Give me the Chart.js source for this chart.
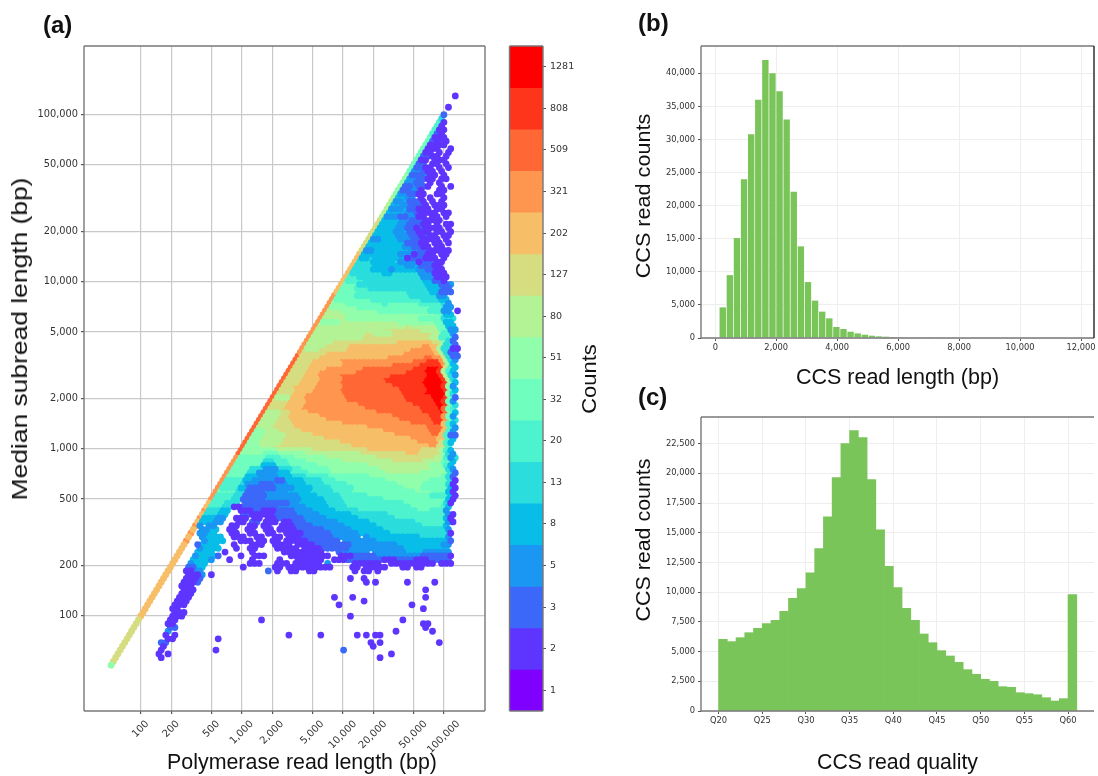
<!DOCTYPE html>
<html><head><meta charset="utf-8">
<script src="https://cdn.jsdelivr.net/npm/chart.js@4"></script>
<style>
html,body{margin:0;padding:0;background:#fff;width:1098px;height:776px;overflow:hidden}
canvas{position:absolute;display:block}
.t{position:absolute;font-family:'Liberation Sans',Arial,sans-serif;color:#111;white-space:nowrap;line-height:1}
.p{font-weight:bold;font-size:24px}
</style></head><body>
<canvas id="ca" width="500" height="776" style="left:0;top:0"></canvas>
<canvas id="cb" width="100" height="776" style="left:500px;top:0"></canvas>
<canvas id="cc" width="473" height="400" style="left:625px;top:0"></canvas>
<canvas id="cd" width="473" height="376" style="left:625px;top:400px"></canvas>
<div class="t p" style="left:43px;top:13px">(a)</div>
<div class="t p" style="left:638px;top:11px">(b)</div>
<div class="t p" style="left:638px;top:385px">(c)</div>
<div class="t" style="left:302px;top:763px;font-size:21.4px;transform:translate(-50%,-50%)">Polymerase read length (bp)</div>
<div class="t" style="left:20px;top:339px;font-size:22px;transform:translate(-50%,-50%) rotate(-90deg) scaleX(1.2)">Median subread length (bp)</div>
<div class="t" style="left:589px;top:379px;font-size:20px;transform:translate(-50%,-50%) rotate(-90deg) scaleX(1.1)">Counts</div>
<div class="t" style="left:643px;top:196px;font-size:20px;transform:translate(-50%,-50%) rotate(-90deg) scaleX(1.08)">CCS read counts</div>
<div class="t" style="left:643px;top:540px;font-size:20px;transform:translate(-50%,-50%) rotate(-90deg) scaleX(1.07)">CCS read counts</div>
<script>
// ---------- panel (a): hexbin, axes ----------
const polymeraseTicks = [100,200,500,1000,2000,5000,10000,20000,50000,100000];
const subreadTicks = [100,200,500,1000,2000,5000,10000,20000,50000,100000];
const countLabels = [1,2,3,5,8,13,20,32,51,80,127,202,321,509,808,1281];
const levelColors = ['#8000ff','#5e35fe','#3c68f9','#1a96f3','#08bee9','#2bdddd','#4df3ce','#6ffebe','#91feab','#b3f396','#d5dd80','#f7be68','#ff964f','#ff6835','#ff351b','#ff0000'];
const hexLogOrigin = 1.704, hexLogStep = 0.02257;
// one entry per hex row, bottom to top; pairs of (colour level, last column), level -1 = empty
const hexRuns = [
[8,0],[10,1],[10,2,-1,21,1,22],[10,3,-1,20,1,21,-1,24,1,25],[10,4,-1,21,1,22],[10,5,-1,22,1,23],
[10,6,-1,21,2,24],[10,7,-1,24,1,27],[10,8,-1,23,1,25,-1,26,1,28],[10,9,-1,24,3,26],[10,10,-1,24,2,28],
[10,11,-1,24,1,28],[10,12,-1,25,1,29],[11,13,-1,25,1,31],[11,14,-1,26,1,32],[11,15,-1,26,1,30],
[11,16,-1,26,1,32],[11,17,-1,28,1,34],[11,18,-1,28,1,34],[11,19,-1,29,1,35],[11,20,-1,30,1,36],
[11,21,-1,30,1,36],[11,22,-1,30,1,36,2,38],[11,23,-1,31,1,37,2,39],[11,24,-1,32,1,38,3,40],
[11,25,-1,31,1,35,3,39,-1,71,1,74,-1,77,1,82,-1,85,1,90,-1,109,1,112,-1,115,1,118],
[11,26,-1,32,2,36,4,40,-1,71,1,74,-1,77,1,84,-1,85,1,92,-1,93,1,96,-1,105,1,108,-1,111,1,120,-1,127,1,130,-1,133,1,136],
[11,27,-1,33,3,35,4,41,-1,60,1,65,-1,71,1,77,-1,80,1,91,-1,94,3,96,-1,105,1,117,-1,121,1,141,-1,143,1,149],
[11,28,-1,34,4,42,3,44,-1,50,1,52,-1,60,1,62,-1,72,1,74,-1,80,1,92,-1,96,1,102,2,118,1,124,2,132,1,138,2,148],
[11,29,-1,35,3,37,4,45,2,47,-1,55,1,57,-1,61,1,67,-1,77,1,95,-1,99,1,105,2,115,3,135,2,147,1,149],
[11,30,-1,36,4,44,-1,48,1,50,-1,60,1,62,-1,74,1,92,-1,98,2,100,3,112,-1,114,3,128,4,136,3,148],
[11,31,-1,37,3,39,4,47,-1,53,1,55,-1,59,1,63,-1,71,1,81,-1,83,1,91,2,103,3,127,4,147],
[11,32,-1,36,2,38,4,46,-1,52,1,54,-1,60,1,66,-1,70,1,78,-1,80,1,88,2,104,3,124,4,144,3,148],
[12,33,-1,39,3,41,4,49,-1,55,1,61,-1,63,1,67,-1,69,1,73,-1,75,1,85,2,99,-1,101,3,115,4,147,2,149],
[11,34,-1,38,3,40,4,48,-1,52,1,58,-1,62,1,66,-1,70,1,74,-1,76,1,82,2,96,3,108,-1,110,3,112,4,134,5,146,3,148],
[12,35,-1,37,3,41,4,45,-1,51,1,55,-1,59,1,63,-1,67,1,71,-1,75,1,83,2,95,3,107,4,121,5,147,1,149],
[11,36,-1,38,3,42,4,46,-1,50,1,54,-1,58,1,62,-1,66,1,70,-1,72,1,80,2,92,3,104,4,118,5,146,3,148],
[12,37,3,39,-1,41,3,45,-1,51,1,55,-1,59,1,63,-1,65,1,69,-1,73,1,79,2,87,3,101,4,115,5,135,6,145,4,147],
[11,38,4,44,3,48,-1,54,1,58,-1,60,2,64,-1,66,1,72,-1,74,1,78,2,84,3,98,4,112,5,132,6,146,3,148,1,150],
[12,39,4,45,3,49,-1,53,1,59,-1,61,1,65,-1,67,1,71,2,83,3,93,4,107,5,123,6,145,4,147,1,150],
[11,40,5,46,4,50,-1,56,2,60,1,64,-1,65,1,70,2,80,3,90,4,104,5,120,6,146,3,148,1,150],
[12,41,5,47,4,51,-1,55,1,61,2,65,1,71,2,79,3,87,4,97,5,107,6,134,7,140,6,146,3,148],
[11,42,6,48,5,52,1,56,2,72,3,84,4,94,5,103,6,130,7,144,6,146,4,149],
[11,43,6,49,5,55,-1,57,2,77,3,81,4,93,5,101,6,127,7,145,5,147,1,149],
[12,44,6,52,5,56,2,66,3,76,3,82,4,92,5,100,6,118,7,146,4,148,1,151],
[12,45,6,53,5,57,2,67,3,75,3,81,4,89,5,99,6,111,7,139,6,147,4,149,1,151],
[12,46,7,54,5,58,2,66,3,76,4,86,5,96,6,104,7,132,8,140,7,146,4,148,1,151],
[12,47,6,55,4,59,2,71,3,79,4,87,5,95,6,105,7,127,8,135,7,147,4,149,1,151],
[12,48,6,56,5,59,3,65,2,71,3,77,4,85,5,93,6,103,7,125,8,136,7,147,5,149,1,151],
[12,49,6,57,4,61,3,71,2,75,4,83,5,91,6,97,7,120,8,140,7,147,5,149,1,151],
[12,50,7,58,4,64,3,72,4,78,5,84,6,94,7,112,8,145,7,147,5,149,2,151],
[12,51,7,59,5,63,3,71,4,77,6,85,7,96,8,120,9,135,8,147,5,149,2,151],
[12,52,7,60,5,66,3,72,5,78,6,82,7,94,8,116,9,141,8,147,5,149,3,151],
[12,53,7,65,4,71,6,78,7,90,8,112,9,140,8,146,6,148,4,150],
[12,54,7,66,5,70,6,76,7,84,8,100,9,122,10,136,9,144,7,148,4,150],
[12,55,7,67,6,73,7,79,8,93,9,115,10,141,9,145,6,147,3,149,5,151],
[13,56,8,66,7,72,8,84,9,108,10,128,11,134,10,144,8,146,5,148,3,150],
[13,57,8,71,9,87,10,112,11,136,10,144,9,146,6,148,4,150],
[13,58,8,64,9,70,10,104,11,139,12,143,10,146,6,148],
[13,59,8,63,9,73,10,100,11,134,12,144,10,146,6,148,4,150],
[13,60,8,64,9,74,10,92,11,130,12,143,11,146,6,148,4,150],
[13,61,8,65,9,75,10,88,11,124,12,140,13,144,11,146,6,148,2,151],
[13,62,8,66,9,72,10,82,11,118,12,138,13,144,11,146,6,148,3,151],
[13,63,9,69,10,79,11,112,12,137,13,145,11,147,6,149,3,151],
[13,64,9,70,10,78,11,100,12,130,13,141,14,145,11,147,6,149,4,151],
[13,65,9,71,10,77,11,94,12,126,13,140,14,145,12,147,7,149,5,151],
[13,66,9,72,10,76,11,90,12,122,13,138,14,145,12,147,7,149,3,151],
[13,67,9,73,10,77,11,86,12,116,13,136,14,143,15,145,13,147,7,149,4,151],
[13,68,10,74,11,83,12,110,13,134,14,142,15,145,13,147,7,149,6,151],
[13,69,10,75,11,83,12,107,13,131,14,141,15,145,14,147,7,149,5,151],
[13,70,10,76,11,84,12,103,13,129,14,140,15,145,14,147,7,149,3,151],
[13,71,9,77,11,84,12,101,13,128,14,139,15,145,14,147,7,149,2,151],
[13,72,10,78,11,85,12,101,13,127,14,137,15,146,8,148,5,150,1,151],
[13,73,10,79,11,87,12,99,13,125,14,137,15,145,14,147,7,149,4,151],
[13,74,10,79,11,89,12,100,13,122,14,137,15,145,14,147,8,149,3,151],
[13,75,10,81,11,89,12,99,13,120,14,136,15,145,14,147,8,149,4,151],
[13,76,10,82,11,91,12,100,13,118,14,136,15,145,14,147,9,149,5,151],
[13,77,10,83,11,89,12,100,13,122,14,137,15,144,14,146,9,148,5,150,3,152],
[13,78,10,84,11,90,12,106,13,128,14,137,15,143,14,145,9,147,6,149,4,151],
[13,79,10,85,11,93,12,110,13,131,14,137,15,143,14,145,10,147,6,149,4,151],
[13,80,10,86,11,101,12,122,13,135,14,145,12,147,8,149,4,151],
[13,81,10,87,11,100,12,132,13,137,14,143,12,145,9,147,5,149,3,151],
[13,82,10,90,11,120,12,137,13,141,12,144,10,146,5,148,2,152],
[12,83,10,93,11,127,12,141,11,144,9,146,5,148,2,151],
[12,84,9,90,10,102,11,131,12,141,11,143,9,145,5,149,1,152],
[12,85,9,93,10,103,11,135,12,139,11,143,9,146,5,149,2,151],
[12,86,9,96,10,125,11,141,10,144,8,146,5,149,2,151],
[12,87,9,109,10,139,9,143,6,149,2,151],
[12,88,9,110,10,114,9,122,10,140,9,144,6,148,3,150],
[12,89,9,119,10,135,9,143,7,147,3,151],
[12,90,9,112,10,114,9,128,10,130,9,142,7,146,4,150],
[12,91,8,99,9,125,8,141,7,145,4,149],
[12,92,9,102,8,134,7,144,5,150],
[12,93,9,103,8,125,9,127,8,141,7,145,4,149],
[12,94,9,100,8,116,7,138,6,144,3,148,-1,151,1,152],
[12,95,8,107,7,139,6,145,3,149],
[12,96,8,102,7,118,6,120,7,134,6,144,5,146,3,148],
[12,97,7,113,6,135,5,143,4,147],
[12,98,7,106,6,130,5,142,3,146],
[11,99,7,107,6,129,5,139,4,143,2,149],
[11,100,7,106,6,112,5,138,4,144,2,148],
[11,101,7,107,5,137,4,143,2,147,3,149],
[11,102,6,110,5,136,4,140,2,144,1,146],
[11,103,6,107,5,135,3,141,1,147],
[11,104,5,118,4,122,5,134,3,140,1,146],
[11,105,5,114,4,122,3,124,4,134,3,138,2,142,1,146],
[11,106,5,114,4,128,3,132,4,134,2,140,1,144],
[11,107,5,113,4,123,5,125,3,133,1,135,2,141,1,145],
[11,108,4,112,5,114,4,128,1,130,2,136,1,142,-1,144,1,146],
[11,109,4,125,3,131,1,133,2,137,1,141,-1,143,1,147],
[10,110,3,114,4,130,3,134,2,138,1,146,-1,147,1,148],
[10,111,4,127,3,131,2,135,1,139,-1,141,1,145],
[10,112,4,128,2,134,1,138,-1,140,1,144,-1,146,1,148],
[10,113,3,117,4,125,3,131,2,135,1,143,-1,145,1,147],
[10,114,4,124,3,130,2,134,1,136,2,138,1,142,-1,144,1,148],
[10,115,4,123,3,127,4,129,2,133,1,139,-1,141,1,145,-1,147,1,149],
[10,116,4,124,3,128,2,132,1,134,2,136,1,144,-1,146,1,148],
[10,117,4,125,3,129,2,135,1,139,-1,141,1,143,-1,145,1,149],
[10,118,4,126,3,130,2,136,1,144],
[9,119,3,125,2,129,3,133,1,137,-1,139,1,143,-1,145,1,147],
[9,120,4,128,3,132,2,134,1,142,-1,144,1,148],
[9,121,3,127,4,129,2,133,1,139,-1,141,1,145],
[9,122,4,126,3,130,2,136,1,138,-1,140,1,146],
[9,123,3,127,4,129,2,135,1,137,-1,139,1,141,-1,143,1,145],
[9,124,4,128,3,132,-1,134,1,136,-1,138,1,140,-1,144,1,146],
[8,125,3,129,2,133,1,137,-1,141,1,145],
[8,126,2,130,3,134,1,136,-1,142,1,146],
[8,127,2,131,3,133,2,137,1,139,-1,143,1,145,-1,147,1,149],
[8,128,3,132,2,136,-1,138,1,140,-1,142,1,144],
[8,129,3,133,2,137,1,141,-1,143,1,147],
[8,130,2,136,3,138,1,142,-1,144,1,146],
[7,131,3,135,2,137,1,141,-1,143,1,145],
[7,132,2,136,1,140,-1,142,1,144,-1,146,1,148],
[7,133,2,137,-1,139,1,143,-1,145,1,147],
[7,134,1,138,-1,140,1,144,-1,145,1,146],
[7,135,2,139,1,143,-1,145,1,147],
[7,136,1,140,-1,142,1,144,-1,146,1,148],
[7,137,1,143,-1,147,1,149],
[7,138,1,146],[7,139,2,141,1,147],[7,140,1,146],[6,141,2,143,1,145],[6,142,1,146],
[6,143,1,145],[6,144,1,146],[5,145],[2,146],[],[1,148],[],[],[1,151]
];
// isolated cells: column, row, colour level
const strayColumns = [98,106,138,111,100,132,137,105,66,128,137,139,138,125,141,78,92,108,112,116,118,47,114,118,144,115,46,102,123,118,105,111,112,116,130,142,138,107,113,58,69,44];
const strayRows =    [18,18,18,17,16,16,15,13,12,12,11,11,10,9,9,8,8,8,8,8,8,7,6,6,6,5,4,4,3,2,23,23,22,22,22,22,20,25,25,26,25,24];
const strayLevels =  [1,1,1,1,1,1,1,1,1,1,1,1,1,1,1,1,1,1,1,1,1,1,1,1,1,1,1,2,1,1,1,1,1,1,1,1,1,1,1,1,2,1];
// ---------- panel (b) ----------
const readLengthBins = [245,478,711,944,1177,1410,1643,1876,2109,2342,2575,2808,3041,3274,3507,3740,3973,4206,4439,4672,4905,5138,5371,5604,5837,6070,6303,6536,6769,7002];
const readLengthCounts = [4630,9500,15100,24000,30800,36000,42000,40000,37300,33000,22100,13850,8450,5650,3980,2970,1660,1360,950,700,500,350,250,200,150,120,90,70,50,40];
const lengthXTicks = [0,2000,4000,6000,8000,10000,12000];
const lengthYTicks = [0,5000,10000,15000,20000,25000,30000,35000,40000];
// ---------- panel (c) ----------
const qualityBins = [20,21,22,23,24,25,26,27,28,29,30,31,32,33,34,35,36,37,38,39,40,41,42,43,44,45,46,47,48,49,50,51,52,53,54,55,56,57,58,59,60];
const qualityCounts = [6030,5840,6170,6590,6960,7350,7630,8390,9480,10300,11620,13660,16330,19640,22500,23600,23000,19470,15240,12180,10380,8640,7630,6480,5750,5080,4630,4100,3480,3090,2670,2500,2050,1990,1540,1460,1370,1120,840,1040,9790];
const qualityXTicks = [20,25,30,35,40,45,50,55,60];
const qualityYTicks = [0,2500,5000,7500,10000,12500,15000,17500,20000,22500];

const tickFont = s => ({family:"'DejaVu Sans'",size:s});
const titleFont = s => ({family:"'Liberation Sans'",size:s});
const tickText = '#333333';
const fmt = v => Number(v).toLocaleString('en-US');
const fixW = w => s => { s.width = w; };
const fixH = h => s => { s.height = h; };
const setTicks = list => s => { s.ticks = list.map(v => ({value:v})); };
function frame(sides, color, rightColor){
  return {id:'frame',afterDraw(c){
    const a=c.chartArea,x=c.ctx;x.save();x.lineWidth=1.4;x.strokeStyle=color;
    const line=(x0,y0,x1,y1,col)=>{x.strokeStyle=col||color;x.beginPath();x.moveTo(x0,y0);x.lineTo(x1,y1);x.stroke();};
    if(sides.includes('t'))line(a.left,a.top,a.right,a.top);
    if(sides.includes('l'))line(a.left,a.top,a.left,a.bottom);
    if(sides.includes('b'))line(a.left,a.bottom,a.right,a.bottom);
    if(sides.includes('r'))line(a.right,a.top,a.right,a.bottom,rightColor);
    x.restore();}};
}
// centre the 45-degree x tick labels on their ticks, as in the reference
const centreRotatedLabels = {id:'centreRotatedLabels',beforeDraw(c){
  const s=c.scales.x,x=c.ctx;
  s.getLabelItems().forEach(it=>{
    x.save();x.font=it.font.string;const w=x.measureText(it.label).width;x.restore();
    const o=it.options;
    o.textAlign='center';o.textBaseline='middle';it.textOffset=0;
    o.translation=[o.translation[0]+4,c.chartArea.bottom+8+(w+it.font.size)/2*0.707];
  });
}};
Chart.defaults.animation=false;
Chart.defaults.responsive=false;
Chart.defaults.plugins.legend.display=false;
Chart.defaults.plugins.tooltip.enabled=false;

// build hex cells
const hexCells = levelColors.map(()=>[]);
const cellPoint=(c,r)=>({x:Math.pow(10,hexLogOrigin+c*hexLogStep),y:Math.pow(10,hexLogOrigin+r*hexLogStep)});
hexRuns.forEach((runs,r)=>{
  let c=r;
  for(let i=0;i<runs.length;i+=2){
    const lvl=runs[i],last=runs[i+1];
    while(c<=last){ if(lvl>=0)hexCells[lvl].push(cellPoint(c,r)); c+=2; }
  }
});
strayColumns.forEach((c,i)=>hexCells[strayLevels[i]].push(cellPoint(c,strayRows[i])));

new Chart(document.getElementById('ca'),{type:'scatter',
  data:{datasets:hexCells.map((pts,i)=>({label:String(countLabels[i]),data:pts,backgroundColor:levelColors[i],pointRadius:3.4,pointBorderWidth:0,pointHoverRadius:3.4}))},
  options:{layout:{padding:{top:46,right:15}},
    scales:{
      x:{type:'logarithmic',min:27.3,max:254800,afterBuildTicks:setTicks(polymeraseTicks),afterFit:fixH(65),
        grid:{color:'#c9c9c9',lineWidth:1.2,tickLength:3,tickColor:'#555'},border:{display:false},
        ticks:{autoSkip:false,minRotation:45,maxRotation:45,font:tickFont(10),color:tickText,padding:3,callback:fmt}},
      y:{type:'logarithmic',min:26.9,max:257600,afterBuildTicks:setTicks(subreadTicks),afterFit:fixW(84),
        grid:{color:'#c9c9c9',lineWidth:1.2,tickLength:3,tickColor:'#555'},border:{display:false},
        ticks:{autoSkip:false,font:tickFont(9.8),color:tickText,padding:3,callback:fmt}}
    }},plugins:[frame('tlbr','#777'),centreRotatedLabels]});

new Chart(document.getElementById('cb'),{type:'bar',
  data:{labels:countLabels.map(String),datasets:[{data:countLabels.map(()=>1),backgroundColor:levelColors,borderWidth:0,categoryPercentage:1,barPercentage:1}]},
  options:{indexAxis:'y',layout:{padding:{top:46,bottom:65,left:9.5}},
    scales:{
      x:{display:false,min:0,max:1},
      y:{position:'right',reverse:true,afterFit:fixW(57),grid:{offset:false,drawOnChartArea:false,tickLength:3,tickColor:'#555'},border:{display:false},
        ticks:{font:tickFont(9.5),color:tickText,padding:4,autoSkip:false}}
    }},plugins:[frame('tlbr','#777')]});

const barColor='#7ac55a';
new Chart(document.getElementById('cc'),{type:'bar',
  data:{datasets:[{data:readLengthBins.map((x,i)=>({x,y:readLengthCounts[i]})),backgroundColor:barColor,borderWidth:0,categoryPercentage:1,barPercentage:0.9}]},
  options:{layout:{padding:{top:46,right:4}},
    scales:{
      x:{type:'linear',offset:false,min:-469,max:12426,afterBuildTicks:setTicks(lengthXTicks),afterFit:fixH(62),
        grid:{offset:false,color:'#eeeeee',lineWidth:1,tickLength:3,tickColor:'#555'},border:{display:false},
        ticks:{autoSkip:false,maxRotation:0,font:tickFont(8.3),color:tickText,padding:2,callback:fmt},
        title:{display:true,text:'CCS read length (bp)',font:titleFont(21.5),color:'#111',padding:{top:0,bottom:9}}},
      y:{min:0,max:44121,afterBuildTicks:setTicks(lengthYTicks),afterFit:fixW(76),
        grid:{color:'#eeeeee',lineWidth:1,tickLength:3,tickColor:'#555'},border:{display:false},
        ticks:{autoSkip:false,font:tickFont(8.3),color:tickText,padding:3,callback:fmt}}
    }},plugins:[frame('tlbr','#777','#222')]});

new Chart(document.getElementById('cd'),{type:'bar',
  data:{datasets:[{data:qualityBins.map((x,i)=>({x:x+0.5,y:qualityCounts[i]})),backgroundColor:barColor,borderWidth:0,categoryPercentage:1,barPercentage:1}]},
  options:{layout:{padding:{top:17,right:4}},
    scales:{
      x:{type:'linear',offset:false,min:17.99,max:62.97,afterBuildTicks:setTicks(qualityXTicks),afterFit:fixH(65),
        grid:{offset:false,color:'#eeeeee',lineWidth:1,tickLength:3,tickColor:'#555'},border:{display:false},
        ticks:{autoSkip:false,maxRotation:0,font:tickFont(8.3),color:tickText,padding:2,callback:v=>'Q'+v},
        title:{display:true,text:'CCS read quality',font:titleFont(21.3),color:'#111',padding:{top:0,bottom:0}}},
      y:{min:0,max:24740,afterBuildTicks:setTicks(qualityYTicks),afterFit:fixW(76),
        grid:{color:'#eeeeee',lineWidth:1,tickLength:3,tickColor:'#555'},border:{display:false},
        ticks:{autoSkip:false,font:tickFont(8.3),color:tickText,padding:3,callback:fmt}}
    }},plugins:[frame('tlb','#777')]});
</script>
</body></html>
